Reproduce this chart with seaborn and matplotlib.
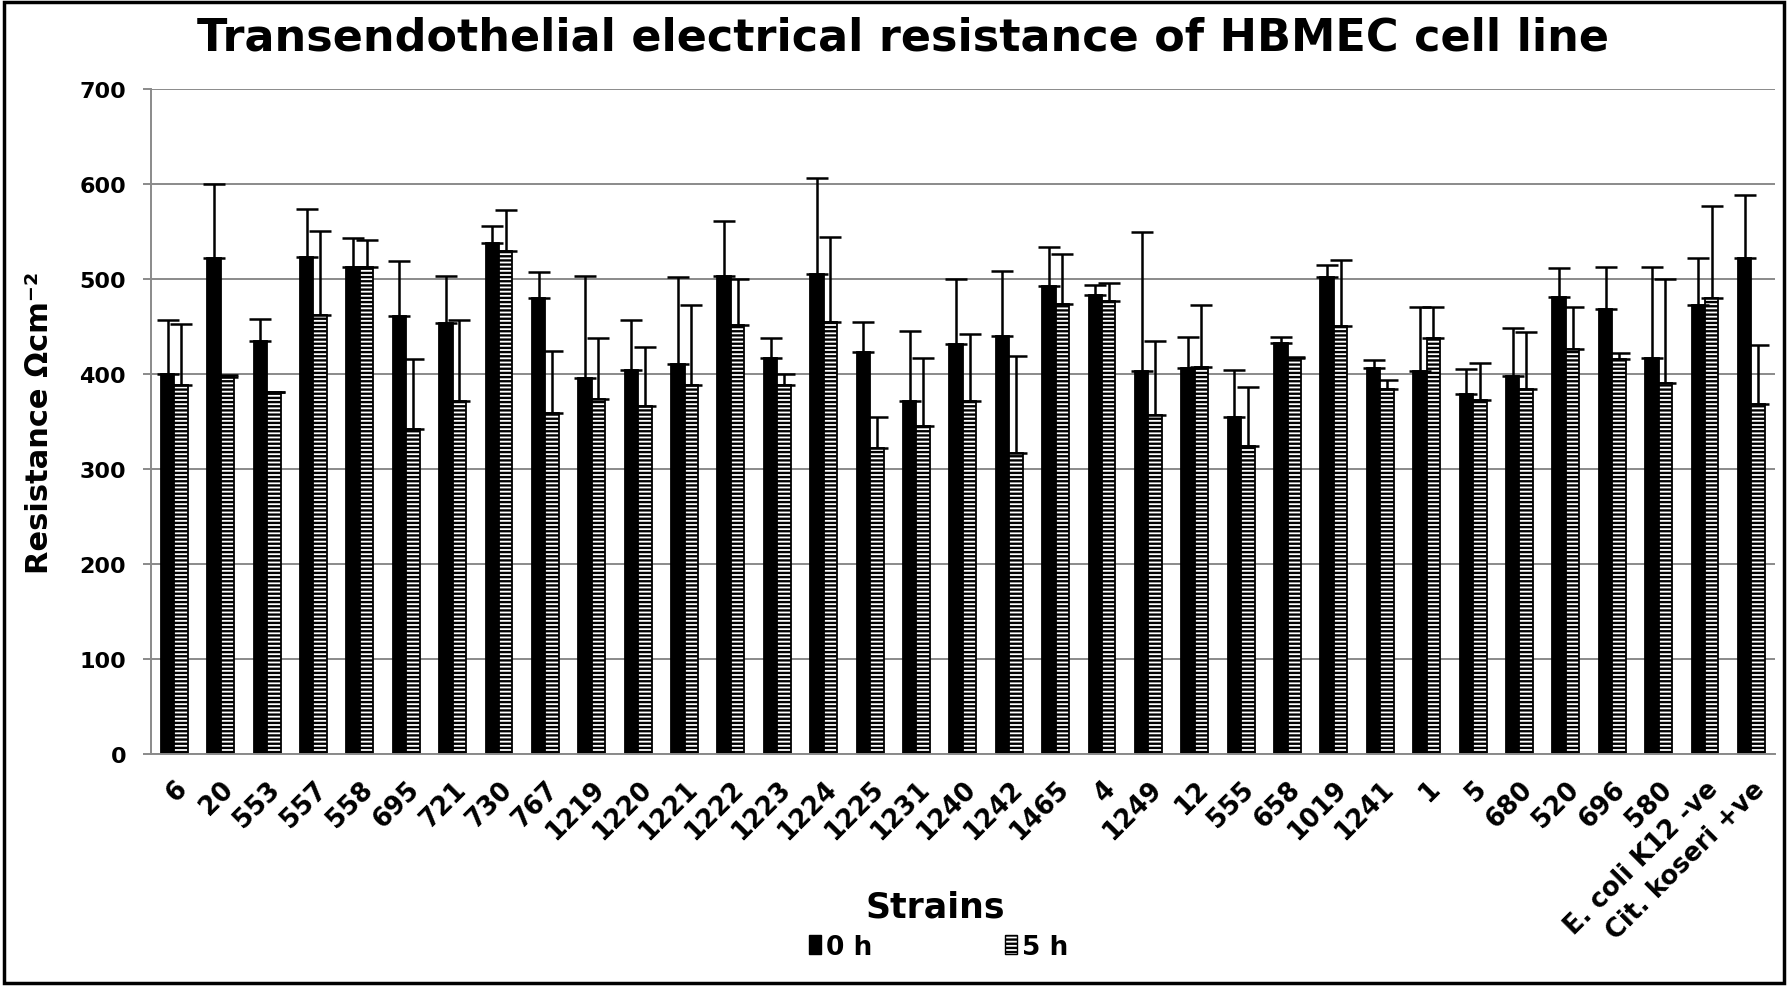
import numpy as np
import pandas as pd
import matplotlib.pyplot as plt
import seaborn as sns
from matplotlib.patches import Patch, Rectangle

strains = ['6', '20', '553', '557', '558', '695', '721', '730', '767', '1219',
           '1220', '1221', '1222', '1223', '1224', '1225', '1231', '1240', '1242',
           '1465', '4', '1249', '12', '555', '658', '1019', '1241', '1', '5',
           '680', '520', '696', '580', 'E. coli K12 -ve', 'Cit. koseri +ve']

teer_0h = [400, 522, 435, 523, 513, 461, 454, 538, 480, 396, 404, 410, 503, 417,
           505, 423, 371, 431, 440, 492, 483, 403, 406, 355, 433, 502, 406, 403,
           379, 398, 481, 468, 417, 472, 522]
teer_5h = [388, 397, 381, 462, 512, 342, 371, 529, 359, 374, 366, 388, 452, 388,
           455, 322, 345, 371, 317, 474, 477, 357, 407, 324, 417, 450, 384, 438,
           373, 384, 426, 416, 390, 480, 368]

sd_0h = [57, 78, 23, 51, 30, 58, 49, 18, 27, 107, 53, 92, 58, 21, 101, 32, 74, 69,
         68, 42, 11, 146, 33, 49, 6, 13, 9, 67, 26, 50, 30, 45, 96, 50, 66]
sd_5h = [65, 2, 0, 88, 29, 74, 86, 44, 65, 64, 62, 84, 48, 12, 89, 33, 72, 71,
         102, 52, 19, 78, 66, 62, 1, 70, 10, 32, 38, 60, 44, 6, 110, 97, 62]

times = ['0 h', '5 h']


def main():
    df = pd.DataFrame({
        'strain': strains * 2,
        'value': teer_0h + teer_5h,
        'time': [times[0]] * len(strains) + [times[1]] * len(strains),
    })

    sns.set_style('white')
    plt.rcParams['font.family'] = ['DejaVu Sans']
    plt.rcParams['text.color'] = 'black'
    plt.rcParams['axes.labelcolor'] = 'black'
    plt.rcParams['xtick.color'] = 'black'
    plt.rcParams['ytick.color'] = 'black'
    plt.rcParams['hatch.linewidth'] = 1.7
    plt.rcParams['hatch.color'] = 'black'

    fig = plt.figure(figsize=(17.88, 9.87), dpi=100)
    ax = fig.add_axes([0.0845, 0.235, 0.908, 0.674])

    sns.barplot(data=df, x='strain', y='value', hue='time',
                palette=['black', 'white'], edgecolor='black', linewidth=1.3,
                width=0.58, errorbar=None, legend=False, ax=ax)

    # hatch the 5 h bars and add one-sided error bars
    errs = [sd_0h, sd_5h]
    bar_conts = list(ax.containers)
    for i, cont in enumerate(bar_conts):
        xs, hs = [], []
        for bar in cont:
            if i == 1:
                bar.set_hatch('----')
            xs.append(bar.get_x() + bar.get_width() / 2)
            hs.append(bar.get_height())
        ax.errorbar(xs, hs, yerr=[np.zeros(len(xs)), errs[i]], fmt='none',
                    ecolor='black', elinewidth=1.8, capsize=8, capthick=1.8,
                    zorder=3)

    ax.set_xlim(-0.5, len(strains) - 0.5)
    ax.set_ylim(0, 700)
    ax.set_yticks(range(0, 701, 100))
    ax.yaxis.grid(True, color='#8a8a8a', linewidth=1.4)
    ax.set_axisbelow(True)
    for s in ['top', 'right']:
        ax.spines[s].set_visible(False)
    for s in ['left', 'bottom']:
        ax.spines[s].set_color('#8a8a8a')
        ax.spines[s].set_linewidth(1.4)

    ax.tick_params(axis='y', left=True, length=6, width=1.4, color='#8a8a8a',
                   labelsize=16, pad=12)
    ax.tick_params(axis='x', bottom=False, labelsize=18.5, pad=12)
    for lbl in ax.get_yticklabels():
        lbl.set_fontweight('bold')
    ax.set_xticks(range(len(strains)))
    ax.set_xticklabels(strains, rotation=45, ha='right',
                       rotation_mode='anchor', fontweight='bold')

    ax.set_xlabel('Strains', fontsize=25, fontweight='bold')
    ax.xaxis.set_label_coords(0.483, -0.203)
    ax.set_ylabel('Resistance Ωcm⁻²', fontsize=22, fontweight='bold')
    ax.yaxis.set_label_coords(-0.06, 0.5)

    fig.text(0.505, 0.962, 'Transendothelial electrical resistance of HBMEC cell line',
             ha='center', va='center', fontsize=32, fontweight='bold')

    handles = [Patch(facecolor='black', edgecolor='black', label=times[0]),
               Patch(facecolor='white', edgecolor='black', hatch='----',
                     label=times[1])]
    fig.legend(handles=handles, loc='center', bbox_to_anchor=(0.525, 0.04),
               ncol=2, frameon=False, handlelength=0.45, handleheight=0.7,
               handletextpad=0.2, columnspacing=5,
               prop={'weight': 'bold', 'size': 19})

    # border around the whole figure
    fig.patches.append(Rectangle((0.002, 0.003), 0.996, 0.994,
                                 transform=fig.transFigure, fill=False,
                                 edgecolor='black', linewidth=2.5))

    fig.savefig('out.png', dpi=100)


if __name__ == '__main__':
    main()
